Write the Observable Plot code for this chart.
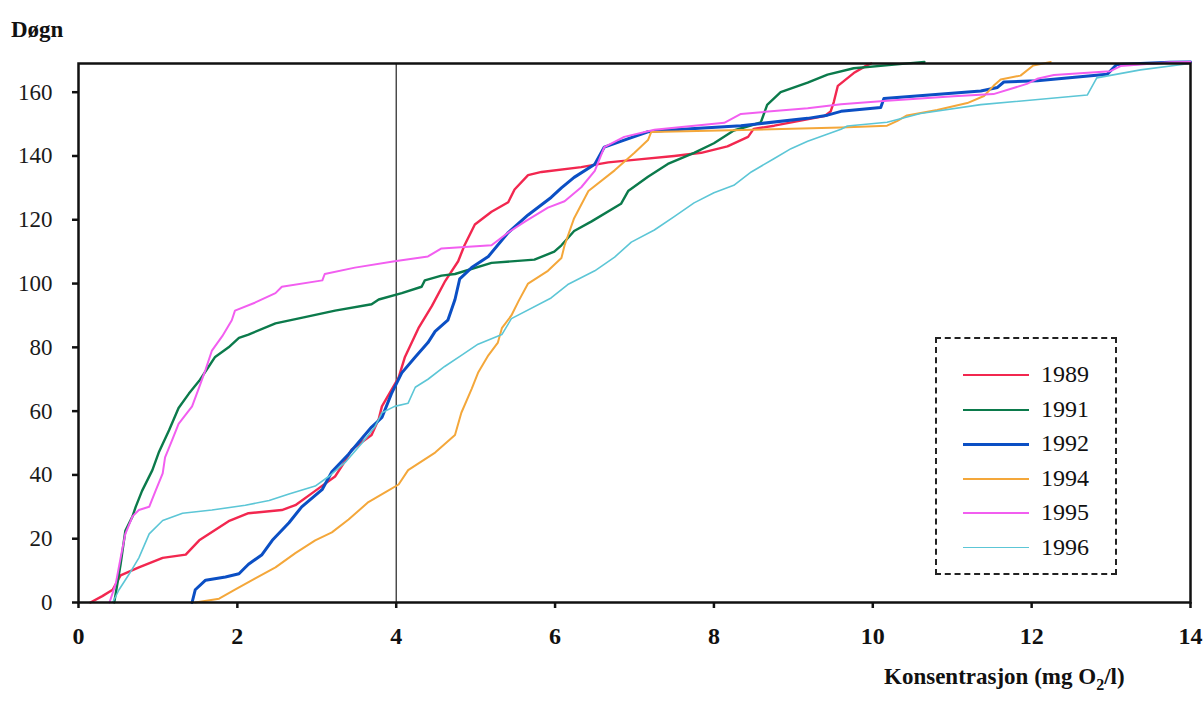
<!DOCTYPE html>
<html><head><meta charset="utf-8">
<script src="https://cdn.jsdelivr.net/npm/d3@7"></script>
<script src="https://cdn.jsdelivr.net/npm/@observablehq/plot@0.6"></script>
<style>
html,body{margin:0;padding:0;background:#fff;}
#wrap{position:relative;width:1204px;height:704px;font-family:"Liberation Serif","Times New Roman",serif;color:#111;}
.lbl{position:absolute;font-weight:bold;white-space:nowrap;}
#legend{position:absolute;left:935px;top:337px;width:182px;height:238px;border:2px dashed #222;box-sizing:border-box;}
.item{position:absolute;left:0;height:30px;}
.item .sw{position:absolute;left:26px;width:66px;top:15px;}
.item .tx{position:absolute;left:104px;top:0;font-size:24px;line-height:30px;}
</style></head>
<body><div id="wrap"></div>
<script>
const years = ["1989","1991","1992","1994","1995","1996"];
const colors = ["#f2274f","#0b7a4b","#0b4fc4","#f4a73a","#f25ef0","#5cc6d6"];
const widths = [2.4,2.4,3,2,2,1.6];
const xTicks = [0,2,4,6,8,10,12,14];
const yTicks = [0,20,40,60,80,100,120,140,160];
const refX = [4];

const s1989 = [[0.15,0],[0.3,2],[0.43,4],[0.53,8.5],[0.76,11],[1.06,14],[1.35,15],[1.52,19.5],[1.89,25.5],[2.14,28],[2.56,29],[2.73,30.5],[2.98,35],[3.23,39.5],[3.36,44.5],[3.44,48],[3.69,52.5],[3.78,57.5],[3.82,61.5],[4.03,70.5],[4.11,77],[4.28,86],[4.45,93],[4.61,100.5],[4.78,107],[4.86,112],[4.99,118.5],[5.2,122.5],[5.41,125.5],[5.49,129.5],[5.66,134],[5.83,135],[6.33,136.5],[6.67,138],[7.09,139],[7.5,140],[7.84,141],[8.17,143],[8.43,146],[8.5,148.5],[8.76,149.5],[9.39,152.5],[9.47,154],[9.51,157],[9.56,162],[9.76,166],[9.93,168.5],[9.98,169]];
const s1991 = [[0.45,0],[0.53,12],[0.59,22.5],[0.68,27],[0.72,30],[0.8,35],[0.93,41.5],[1.01,47],[1.14,54],[1.26,61],[1.39,65.5],[1.52,69.5],[1.64,74],[1.72,77],[1.89,80],[2.02,83],[2.14,84],[2.48,87.5],[2.85,89.5],[3.23,91.5],[3.69,93.5],[3.78,95],[4.07,97],[4.32,99],[4.36,101],[4.57,102.5],[4.74,103],[5.2,106.5],[5.74,107.5],[5.99,110],[6.08,112],[6.24,116.5],[6.46,119.5],[6.83,125],[6.92,129],[7.17,133.5],[7.42,137.5],[7.75,141],[8.0,144],[8.25,148],[8.59,150.5],[8.67,156],[8.84,160],[9.18,163],[9.43,165.5],[9.76,167.5],[10.2,168.5],[10.65,169.5]];
const s1992 = [[1.43,0],[1.47,4],[1.6,7],[1.85,8],[2.02,9],[2.14,12],[2.31,15],[2.44,19.5],[2.65,25],[2.81,30],[3.07,35.5],[3.19,41],[3.4,46.5],[3.57,51.5],[3.69,55],[3.82,58],[3.94,65.5],[4.07,72],[4.24,77],[4.4,81.5],[4.49,85],[4.65,88.5],[4.74,95],[4.8,101.5],[4.95,105],[5.16,108.5],[5.41,116],[5.66,121.5],[5.95,127],[6.08,130],[6.24,133.3],[6.5,137.4],[6.62,142.8],[6.87,145],[7.17,147.6],[7.5,148.2],[8.34,149.5],[9.18,151.8],[9.43,152.8],[9.6,154],[10.1,155.2],[10.14,158],[11.36,160.4],[11.57,161.5],[11.65,163.2],[12.07,163.6],[12.95,165.6],[13.07,168.7],[13.74,169.4],[14,169.5]];
const s1994 = [[1.47,0],[1.77,1.2],[1.97,4],[2.22,7.5],[2.48,11],[2.73,15.5],[2.98,19.5],[3.19,22],[3.4,26],[3.65,31.5],[3.86,34.5],[4.03,37],[4.15,41.5],[4.49,47],[4.74,52.5],[4.82,59.5],[4.95,67],[5.03,72],[5.16,77.5],[5.28,81.5],[5.33,86],[5.45,90],[5.54,94.5],[5.66,100],[5.91,104],[6.08,108],[6.12,112],[6.24,120.5],[6.42,129],[6.75,135.5],[7.0,141],[7.17,145],[7.21,147.5],[7.5,147.7],[8.5,148.2],[9.6,148.9],[10.18,149.5],[10.31,151],[10.43,152.7],[10.81,154.4],[11.19,156.6],[11.4,158.8],[11.52,162],[11.61,164],[11.86,165.2],[12.02,168.4],[12.24,169.5]];
const s1995 = [[0.39,0],[0.47,6],[0.53,14],[0.59,21.5],[0.68,27],[0.76,29],[0.89,30],[0.97,35],[1.06,40.5],[1.09,45.5],[1.18,51],[1.26,56],[1.43,61.5],[1.52,67.5],[1.6,73],[1.68,79],[1.81,83.5],[1.93,88.5],[1.97,91.5],[2.22,94],[2.48,97],[2.56,99],[3.07,101],[3.1,103],[3.48,105],[3.98,107],[4.4,108.5],[4.57,111],[5.2,112],[5.41,116],[5.62,119.4],[5.91,123.8],[6.12,125.8],[6.33,130.2],[6.5,135.3],[6.62,142.8],[6.87,146],[7.25,148.2],[8.13,150.4],[8.34,153.2],[9.18,155],[9.6,156.2],[10.18,157.3],[11.02,158.7],[11.52,159.4],[11.94,162.6],[12.07,164.2],[12.28,165.4],[12.99,166.6],[13.12,168.2],[13.74,169.4],[14,169.5]];
const s1996 = [[0.43,0],[0.51,4],[0.64,9],[0.76,14],[0.89,21.5],[1.06,25.7],[1.31,28],[1.68,29],[2.1,30.5],[2.4,32],[2.65,34],[2.98,36.5],[3.15,39.5],[3.36,44],[3.57,50],[3.73,55],[3.82,59.5],[3.98,61.5],[4.15,62.5],[4.24,67.5],[4.4,70],[4.61,74],[4.82,77.5],[5.03,81],[5.33,84],[5.45,89],[5.95,95.5],[6.16,99.7],[6.5,104],[6.75,108.3],[6.96,113],[7.25,116.8],[7.5,121],[7.75,125.3],[8.0,128.5],[8.25,130.8],[8.47,135],[8.76,139.2],[8.97,142.3],[9.18,144.6],[9.39,146.5],[9.6,148.4],[9.68,149.4],[10.18,150.6],[10.6,153.3],[11.36,156.1],[12.7,159.1],[12.82,164.5],[13.37,167],[13.87,168.6],[14,169]];

const series = [s1989,s1991,s1992,s1994,s1995,s1996];
const table = series.flatMap((s,i) => s.map(([x,y]) => ({year: years[i], x, y})));

const lineMarks = years.map((yr,i) => Plot.line(table.filter(d => d.year === yr), {
  x: "x", y: "y", stroke: colors[i], strokeWidth: widths[i], strokeLinejoin: "round"
}));

const FONT = "Liberation Serif, Times New Roman, serif";

const chart = Plot.plot({
  width: 1204, height: 704,
  marginLeft: 78, marginRight: 14, marginTop: 63, marginBottom: 102,
  style: {fontFamily: FONT, color: "#111", background: "transparent"},
  x: {domain: [0,14]},
  y: {domain: [0,169]},
  marks: [
    Plot.ruleX(refX, {stroke: "#222", strokeWidth: 1.2}),
    ...lineMarks,
    Plot.frame({stroke: "#111", strokeWidth: 2.5}),
    Plot.axisX(xTicks, {label: null, tickSize: 6, tickFormat: () => "", stroke: "#111", strokeWidth: 2.5}),
    Plot.axisY(yTicks, {label: null, tickSize: 6, tickFormat: () => "", stroke: "#111", strokeWidth: 2.5}),
    Plot.text(xTicks, {x: d => d, frameAnchor: "bottom", dy: 41, text: d => String(d),
      fontFamily: FONT, fontSize: 24, fontWeight: "bold", fill: "#111"}),
    Plot.text(yTicks, {y: d => d, frameAnchor: "left", dx: -26, textAnchor: "end", text: d => String(d),
      fontFamily: FONT, fontSize: 23, fill: "#1a1a1a"})
  ]
});

const wrap = document.getElementById("wrap");
wrap.appendChild(chart);

const t1 = document.createElement("div");
t1.className = "lbl"; t1.textContent = "Døgn";
t1.style.cssText = "left:11px;top:17px;font-size:23px;";
wrap.appendChild(t1);

const t2 = document.createElement("div");
t2.className = "lbl";
t2.innerHTML = "Konsentrasjon (mg O<sub style='font-size:16px'>2</sub>/l)";
t2.style.cssText = "left:884px;top:664px;font-size:23px;";
wrap.appendChild(t2);

const lg = document.createElement("div");
lg.id = "legend";
years.forEach((yr,i) => {
  const it = document.createElement("div");
  it.className = "item";
  it.style.top = (20 + i*34.5) + "px";
  const sw = document.createElement("div");
  sw.className = "sw";
  sw.style.borderTop = widths[i] + "px solid " + colors[i];
  const tx = document.createElement("div");
  tx.className = "tx"; tx.textContent = yr;
  it.appendChild(sw); it.appendChild(tx);
  lg.appendChild(it);
});
wrap.appendChild(lg);
chart.style.position = "absolute"; chart.style.left = "0"; chart.style.top = "0";
</script></body></html>
